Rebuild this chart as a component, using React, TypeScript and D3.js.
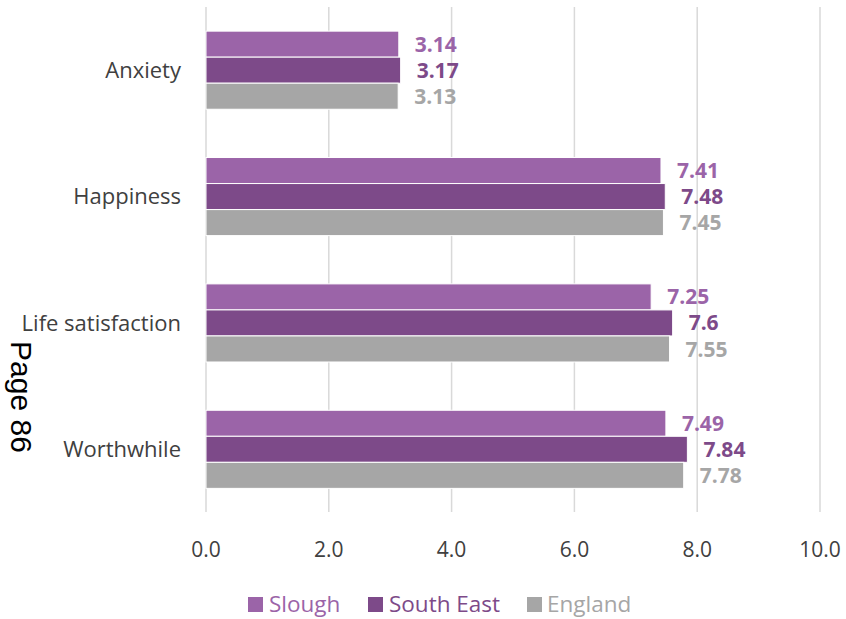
import React from "react";
import * as d3 from "d3";

const categories = ["Anxiety", "Happiness", "Life satisfaction", "Worthwhile"];
const seriesNames = ["Slough", "South East", "England"];
const slough = [3.14, 7.41, 7.25, 7.49];
const southEast = [3.17, 7.48, 7.6, 7.84];
const england = [3.13, 7.45, 7.55, 7.78];
const xTicks = [0, 2, 4, 6, 8, 10];
const colors = ["#9b64a8", "#7d4a89", "#a6a6a6"];

const W = 846;
const H = 619;
const FONT = "'Segoe UI', 'Open Sans', 'Noto Sans', sans-serif";

export default function App() {
  const series = [slough, southEast, england];
  const x = d3.scaleLinear().domain([0, 10]).range([206, 820]);
  const y = d3.scaleBand<string>().domain(categories).range([7, 512.5]).paddingInner(0.382).paddingOuter(0.191);
  const inner = d3.scaleBand<number>().domain([0, 1, 2]).range([0, y.bandwidth()]);

  const legendItems = [
    { sx: 248, tx: 269 },
    { sx: 368, tx: 389 },
    { sx: 527, tx: 547 },
  ];

  return (
    <svg width={W} height={H} style={{ position: "absolute", left: 0, top: 0 }} fontFamily={FONT}>
      <rect x={0} y={0} width={W} height={H} fill="#fff" />
      {xTicks.map((t) => (
        <line key={t} x1={x(t)} x2={x(t)} y1={7} y2={512} stroke="#d9d9d9" strokeWidth={1.5} />
      ))}
      {categories.map((c, ci) =>
        series.map((s, si) => {
          const y0 = (y(c) as number) + (inner(si) as number);
          return (
            <g key={c + si}>
              <rect x={x(0)} y={y0} width={x(s[ci]) - x(0)} height={inner.bandwidth()} fill={colors[si]} stroke="#fff" strokeWidth={1} />
              <text x={x(s[ci]) + 16} y={y0 + inner.bandwidth() / 2} dy="0.36em" fill={colors[si]} fontSize={21} fontWeight="bold">
                {String(s[ci])}
              </text>
            </g>
          );
        })
      )}
      {categories.map((c) => (
        <text key={c} x={181} y={(y(c) as number) + y.bandwidth() / 2} dy="0.36em" textAnchor="end" fontSize={22} fill="#404040">
          {c}
        </text>
      ))}
      {xTicks.map((t) => (
        <text key={t} x={x(t)} y={549} dy="0.36em" textAnchor="middle" fontSize={21} fill="#404040">
          {d3.format(".1f")(t)}
        </text>
      ))}
      {seriesNames.map((n, i) => (
        <g key={n}>
          <rect x={legendItems[i].sx} y={597} width={15} height={15} fill={colors[i]} />
          <text x={legendItems[i].tx} y={604} dy="0.36em" fontSize={22.5} fill={colors[i]}>
            {n}
          </text>
        </g>
      ))}
      <text transform="translate(11,397) rotate(90)" textAnchor="middle" fontSize={30} fill="#000" fontFamily="'Liberation Sans', Arial, sans-serif">
        Page 86
      </text>
    </svg>
  );
}
